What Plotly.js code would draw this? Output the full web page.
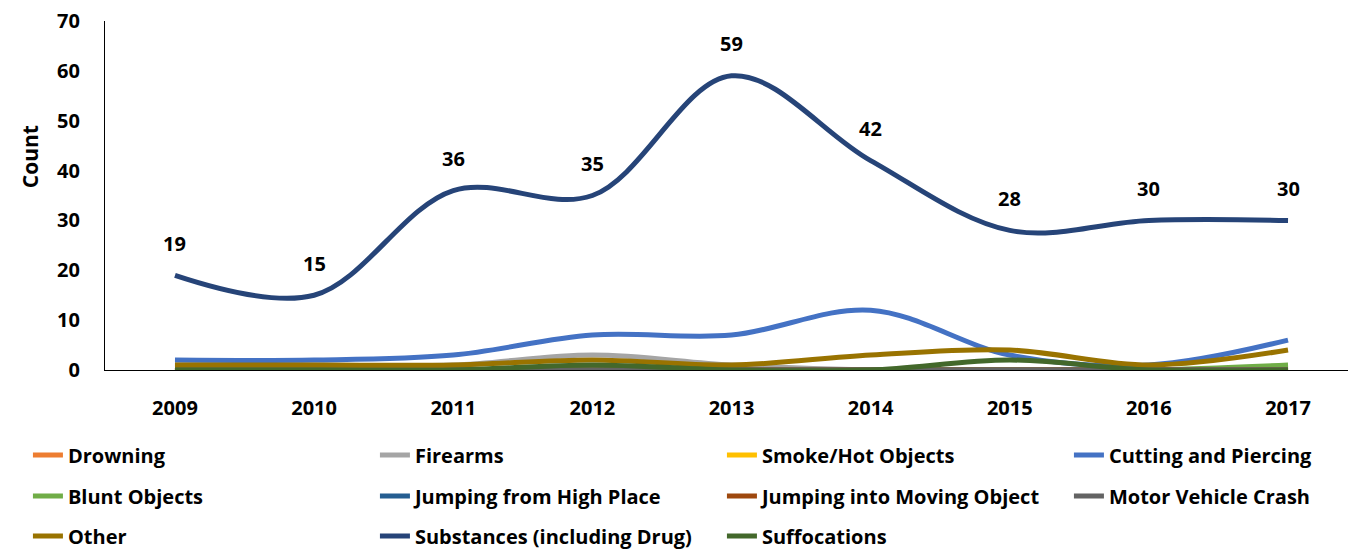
<!DOCTYPE html>
<html>
<head>
<meta charset="utf-8">
<script src="https://cdn.plot.ly/plotly-3.0.1.min.js"></script>
<style>html,body{margin:0;padding:0;background:#fff;}#chart{width:1348px;height:550px;}</style>
</head>
<body>
<div id="chart"></div>
<script>
var years = ["2009","2010","2011","2012","2013","2014","2015","2016","2017"];
var seriesNames = ["Drowning","Firearms","Smoke/Hot Objects","Cutting and Piercing","Blunt Objects","Jumping from High Place","Jumping into Moving Object","Motor Vehicle Crash","Other","Substances (including Drug)","Suffocations"];
var drowning      = [0,0,0,0,0,0,0,0,0];
var firearms      = [1,1,1,3,1,0,0,0,0];
var smokeHot      = [0,0,0,0,0,0,0,0,0];
var cutting       = [2,2,3,7,7,12,3,1,6];
var blunt         = [0,0,0,0,0,0,0,0,1];
var jumpHigh      = [0,0,0,0,0,0,0,0,0];
var jumpMoving    = [0,0,0,0,0,0,0,0,0];
var motorVehicle  = [0,0,0,0,0,0,0,0,0];
var other         = [1,1,1,2,1,3,4,1,4];
var substances    = [19,15,36,35,59,42,28,30,30];
var suffocations  = [0,0,0,1,0,0,2,0,0];

var allValues = [drowning,firearms,smokeHot,cutting,blunt,jumpHigh,jumpMoving,motorVehicle,other,substances,suffocations];
var colors = ["#ED7D31","#A5A5A5","#FFC000","#4472C4","#70AD47","#255E91","#9E480E","#636363","#997300","#264478","#43682B"];
var legendRow = ["legend","legend","legend","legend","legend2","legend2","legend2","legend2","legend3","legend3","legend3"];

var FONT = "'Open Sans', Lato, sans-serif";
var FS = 20;
var traces = seriesNames.map(function(n,i){
  return {
    x: years, y: allValues[i], name: n, type: "scatter", mode: "lines",
    line: {color: colors[i], width: 5, shape: "spline", smoothing: 1},
    legend: legendRow[i], legendwidth: (i % 4 === 3) ? 220 : 302,
    hoverinfo: "x+y+name"
  };
});

var annotations = years.map(function(yr,i){
  return {x: i, y: substances[i], xref: "x", yref: "y", text: "<b>"+substances[i]+"</b>",
    showarrow: false, yshift: 32, xanchor: "center", yanchor: "middle",
    font: {family: FONT, size: FS, color: "#000"}};
});
annotations.push({xref:"paper", yref:"paper", x:-0.0603, y:0.61, xanchor:"center", yanchor:"middle",
  text:"<b>Count</b>", textangle:-90, showarrow:false, font:{family: FONT, size: 21, color:"#000"}});

function legendCfg(y){
  return {orientation:"h", x:-0.062, xanchor:"left", y:y, yanchor:"middle",
    traceorder:"normal",
    font:{family: FONT, size: FS, color:"#000", weight: "bold"}, bgcolor:"rgba(0,0,0,0)"};
}

var layout = {
  width: 1348, height: 550,
  margin: {l: 105, r: 0, t: 21, b: 180, autoexpand: false},
  paper_bgcolor: "#fff", plot_bgcolor: "#fff",
  showlegend: true,
  xaxis: {type:"category", range:[-0.503, 8.431], showgrid:false, zeroline:false, automargin:false,
    showline:true, linecolor:"#000", linewidth:1.3, ticks:"", ticklabelstandoff: 20,
    tickfont:{family: FONT, size: FS, color:"#000", weight:"bold"}},
  yaxis: {range:[0,70], dtick:10, showgrid:false, zeroline:false, automargin:false,
    showline:true, linecolor:"#000", linewidth:1.3, ticks:"", ticklabelstandoff: 20,
    tickfont:{family: FONT, size: FS, color:"#000", weight:"bold"}},
  legend: legendCfg(-0.2436),
  legend2: legendCfg(-0.361),
  legend3: legendCfg(-0.4756),
  annotations: annotations
};

Plotly.newPlot("chart", traces, layout, {displayModeBar:false, responsive:false});
</script>
</body>
</html>
